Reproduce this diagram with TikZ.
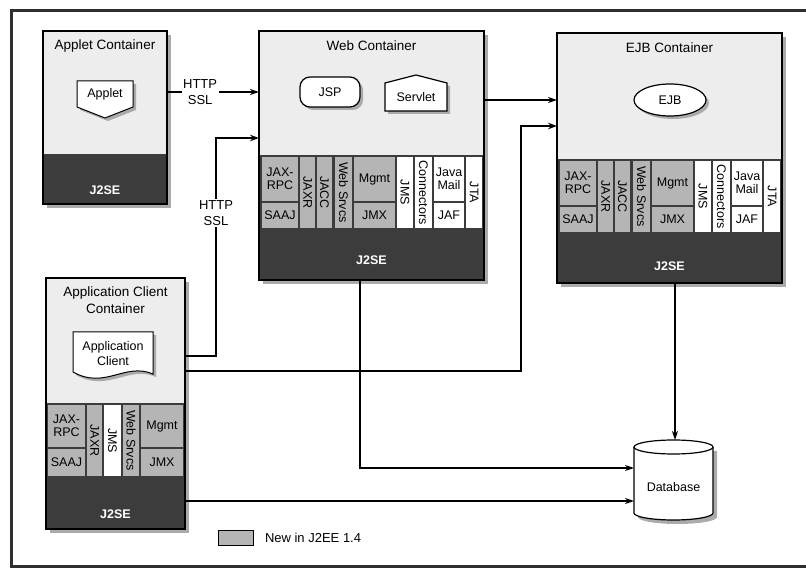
\documentclass[tikz,border=0pt]{standalone}
\usepackage{fontspec}
\setmainfont{Liberation Sans}
\usetikzlibrary{arrows.meta,shadows,shapes.geometric}
\definecolor{contbg}{HTML}{EDEDED}
\definecolor{bandc}{HTML}{3C3C3C}
\definecolor{cellg}{HTML}{B5B5B5}
\definecolor{shadc}{HTML}{ABABAB}
\definecolor{framec}{HTML}{2F2F2F}
\newcommand\vtxt[1]{\rotatebox[origin=c]{-90}{#1}}
\begin{document}
\begin{tikzpicture}[x=1pt,y=-1pt,
  every node/.style={font=\fontsize{12.5}{14}\selectfont, inner sep=0pt, outer sep=0pt},
  cont/.style={draw=black, line width=1.4, fill=contbg, anchor=north west},
  shad/.style={fill=shadc, anchor=north west},
  band/.style={fill=bandc, anchor=north west},
  gcell/.style={fill=cellg, anchor=north west, align=center, font=\fontsize{12.5}{13}\selectfont},
  wcell/.style={fill=white, anchor=north west, align=center, font=\fontsize{12.5}{13}\selectfont},
  j2se/.style={text=white, font=\fontsize{12.5}{14}\selectfont\bfseries},
  ttl/.style={align=center, font=\fontsize{13.5}{17}\selectfont},
  conn/.style={line width=1.5, -{Stealth[length=9pt,width=6pt]}},
  connb/.style={line width=2.2, -{Stealth[length=9pt,width=6.5pt]}},
  lbl/.style={fill=white, align=center, inner sep=1.5pt, font=\fontsize{13}{16}\selectfont},
  dshad/.style={drop shadow={shadow xshift=3pt, shadow yshift=-3pt, fill=shadc, opacity=1}},
  svcband/.pic={
    \node[gcell, minimum width=36, minimum height=44] (-rpc) at (3,0) {JAX-\\RPC};
    \node[gcell, minimum width=36, minimum height=25] (-saaj) at (3,46) {SAAJ};
    \node[gcell, minimum width=15, minimum height=71] (-jaxr) at (41,0) {\vtxt{JAXR}};
    \node[gcell, minimum width=15, minimum height=71] (-jacc) at (58,0) {\vtxt{JACC}};
    \node[gcell, minimum width=17, minimum height=71] (-ws) at (76,0) {\vtxt{Web Srvcs}};
    \node[gcell, minimum width=41, minimum height=44] (-mgmt) at (95,0) {Mgmt};
    \node[gcell, minimum width=41, minimum height=25] (-jmx) at (95,46) {JMX};
    \node[wcell, minimum width=16, minimum height=71] (-jms) at (138,0) {\vtxt{JMS}};
    \node[wcell, minimum width=17, minimum height=71] (-conn) at (156,0) {\vtxt{Connectors}};
    \node[wcell, minimum width=30, minimum height=44] (-mail) at (175,0) {Java\\Mail};
    \node[wcell, minimum width=30, minimum height=25] (-jaf) at (175,46) {JAF};
    \node[wcell, minimum width=16, minimum height=71] (-jta) at (207,0) {\vtxt{JTA}};
  }
]
\useasboundingbox (0,0) rectangle (806,569);
\clip (0,0) rectangle (806,569);
\fill[white] (0,0) rectangle (806,569);
\draw[framec, line width=3] (11,11) rectangle (830,566);

% ---------- Applet container
\node[shad, minimum width=124, minimum height=173] (appletsh) at (47,35) {};
\node[cont, minimum width=124, minimum height=173] (appletc) at (43,31) {};
\node[band, minimum width=124, minimum height=50] (appletb) at (43,154) {};
\draw[line width=1.4] (appletc.north west) rectangle (appletc.south east);
\node[ttl] (applett) at (105,46) {Applet Container};
\node[j2se] (applets) at (105,190) {J2SE};
\fill[shadc] (80,84) -- (136,84) -- (136,110) -- (108,121) -- (80,110) -- cycle;
\draw[fill=white, line width=1] (77,81) -- (133,81) -- (133,107) -- (105,118) -- (77,107) -- cycle;
\node (applet) at (105,94) {Applet};

% ---------- Web container
\node[shad, minimum width=225, minimum height=249] (websh) at (263,35) {};
\node[cont, minimum width=225, minimum height=249] (webc) at (259,31) {};
\node[band, minimum width=225, minimum height=125] (webb) at (259,155) {};
\draw[line width=1.4] (webc.north west) rectangle (webc.south east);
\pic (websvc) at (259,157) {svcband};
\node[ttl] (webt) at (371.5,46) {Web Container};
\node[j2se] (webs) at (371.5,260) {J2SE};
\node[draw, line width=1.2, fill=white, rounded corners=10, minimum width=60, minimum height=30, dshad] (jsp) at (330,92) {JSP};
\fill[shadc] (388,114) -- (388,86) -- (419,78) -- (450,86) -- (450,114) -- cycle;
\draw[fill=white, line width=1.2] (385,111) -- (385,83) -- (416,75) -- (447,83) -- (447,111) -- cycle;
\node (servlet) at (416,97) {Servlet};

% ---------- EJB container
\node[shad, minimum width=225, minimum height=250] (ejbsh) at (561,37) {};
\node[cont, minimum width=225, minimum height=250] (ejbc) at (557,33) {};
\node[band, minimum width=225, minimum height=124] (ejbb) at (557,159) {};
\draw[line width=1.4] (ejbc.north west) rectangle (ejbc.south east);
\pic (ejbsvc) at (557,161) {svcband};
\node[ttl] (ejbt) at (669.5,48) {EJB Container};
\node[j2se] (ejbs) at (669.5,266) {J2SE};
\node[ellipse, draw, line width=1.2, fill=white, minimum width=72, minimum height=32, dshad] (ejb) at (670,100) {EJB};

% ---------- Application client container
\node[shad, minimum width=139, minimum height=251] (appsh) at (50,282) {};
\node[cont, minimum width=139, minimum height=251] (appc) at (46,278) {};
\node[band, minimum width=139, minimum height=126] (appb) at (46,403) {};
\draw[line width=1.4] (appc.north west) rectangle (appc.south east);
\node[ttl] (appt) at (115.5,300) {Application Client\\Container};
\node[j2se] (apps) at (115.5,514) {J2SE};
\node[gcell, minimum width=37, minimum height=42] (app-rpc) at (48,405) {JAX-\\RPC};
\node[gcell, minimum width=37, minimum height=27] (app-saaj) at (48,449) {SAAJ};
\node[gcell, minimum width=15, minimum height=71] (app-jaxr) at (87,405) {\vtxt{JAXR}};
\node[wcell, minimum width=17, minimum height=71] (app-jms) at (104,405) {\vtxt{JMS}};
\node[gcell, minimum width=16, minimum height=71] (app-ws) at (123,405) {\vtxt{Web Srvcs}};
\node[gcell, minimum width=42, minimum height=42] (app-mgmt) at (141,405) {Mgmt};
\node[gcell, minimum width=42, minimum height=27] (app-jmx) at (141,449) {JMX};
\fill[shadc] (76,335) -- (156,335) -- (156,377) .. controls (128,365) and (108,393) .. (76,375) -- cycle;
\draw[fill=white, line width=1] (73,332) -- (153,332) -- (153,374) .. controls (125,362) and (105,390) .. (73,372) -- cycle;
\node[align=center, font=\fontsize{12.5}{15}\selectfont] (appcl) at (113,354) {Application\\Client};

% ---------- Database
\node[minimum width=79, minimum height=80] (db) at (673.5,480) {};
\fill[shadc] (638,451) -- (638,517) arc[start angle=180, end angle=0, x radius=39.5, y radius=7] -- (717,451) -- cycle;
\fill[white] (634,447) -- (634,513) arc[start angle=180, end angle=0, x radius=39.5, y radius=7] -- (713,447) -- cycle;
\draw[line width=1.2] (634,447) -- (634,513) arc[start angle=180, end angle=0, x radius=39.5, y radius=7] -- (713,447);
\draw[line width=1.2, fill=white] (673.5,447) ellipse [x radius=39.5, y radius=7];
\node (dbt) at (673.5,487) {Database};

% ---------- Legend
\node[gcell, draw=black, line width=1, minimum width=35, minimum height=15] (leg) at (218,530) {};
\node[anchor=west, font=\fontsize{13}{15}\selectfont] (legt) at ([xshift=12pt]leg.east) {New in J2EE 1.4};

% ---------- Connectors
\coordinate (r1) at (0,92);
\coordinate (r2) at (0,138);
\coordinate (r3) at (0,356);
\coordinate (r4) at (0,100);
\coordinate (r5) at (0,126);
\coordinate (r6) at (0,371);
\coordinate (r7) at (0,468);
\coordinate (r8) at (0,501);
\coordinate (c1) at (216,0);
\coordinate (c2) at (521,0);
\coordinate (c3) at (360,0);
\coordinate (c4) at (675,0);

\draw[conn] (appletc.east |- r1) -- node[lbl, pos=0.36] (l1) {HTTP\\SSL} (webc.west |- r1);
\draw[connb] (appc.east |- r3) -- (c1 |- r3) -- node[lbl, pos=0.656] (l2) {HTTP\\SSL} (c1 |- r2) -- (webc.west |- r2);
\draw[conn] (webc.east |- r4) -- (ejbc.west |- r4);
\draw[connb] (appc.east |- r6) -- (c2 |- r6) -- (c2 |- r5) -- (ejbc.west |- r5);
\draw[conn] (c3 |- webc.south) -- (c3 |- r7) -- (db.west |- r7);
\draw[conn, line width=1.3] (appc.east |- r8) -- (db.west |- r8);
\draw[conn] (c4 |- ejbc.south) -- (c4 |- db.north);
\end{tikzpicture}
\end{document}
